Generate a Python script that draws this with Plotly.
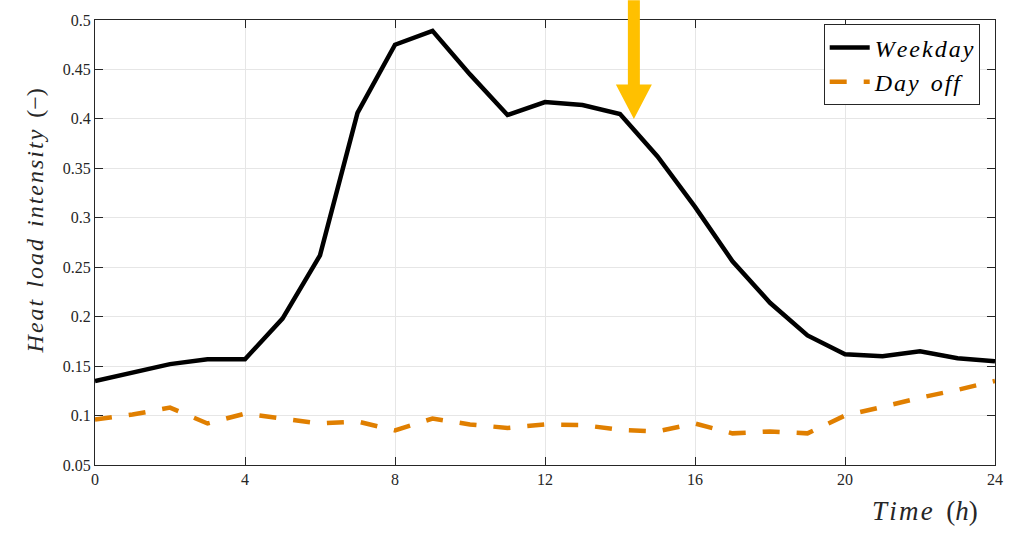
import plotly.graph_objects as go

# Hourly heat load intensity profiles
hours = list(range(25))
weekday = [0.135, 0.1435, 0.152, 0.157, 0.157, 0.198, 0.262, 0.406, 0.475, 0.489,
           0.445, 0.404, 0.417, 0.414, 0.405, 0.362, 0.311, 0.256, 0.214, 0.181,
           0.162, 0.160, 0.165, 0.158, 0.155]
day_off = [0.096, 0.101, 0.108, 0.092, 0.102, 0.097, 0.092, 0.094, 0.085, 0.097,
           0.091, 0.0875, 0.091, 0.0905, 0.0855, 0.084, 0.092, 0.082, 0.084, 0.082,
           0.100, 0.1087, 0.118, 0.126, 0.135]

x_ticks = [0, 4, 8, 12, 16, 20, 24]
y_ticks = [0.05, 0.1, 0.15, 0.2, 0.25, 0.3, 0.35, 0.4, 0.45, 0.5]
y_tick_text = ["0.05", "0.1", "0.15", "0.2", "0.25", "0.3", "0.35", "0.4", "0.45", "0.5"]

x_range = [0, 24]
y_range = [0.05, 0.5]

# Marker arrow pointing at the afternoon decline
arrow_hour = 14.37
arrow_tip_value = 0.40

AXIS_COLOR = "#262626"
GRID_COLOR = "#e6e6e6"
FONT = "Liberation Serif"
LETTER_GAP = "\u200a"   # hair space between letters
WORD_GAP = "\u2002"     # en space between words


def math_it(phrase):
    """Italic text with loose letter spacing, like math-mode italics."""
    return "<i>" + WORD_GAP.join(LETTER_GAP.join(w) for w in phrase.split(" ")) + "</i>"


fig = go.Figure()
fig.add_trace(go.Scatter(
    x=hours, y=weekday, mode="lines", name=math_it("Weekday"),
    line=dict(color="black", width=4.5),
))
fig.add_trace(go.Scatter(
    x=hours, y=day_off, mode="lines", name=math_it("Day off"),
    line=dict(color="#E07F00", width=4.5, dash="17px,17px"),
))

W, H = 1025, 534
margin = dict(l=95, r=30, t=12, b=69)
plot_w = W - margin["l"] - margin["r"]
plot_h = H - margin["t"] - margin["b"]


def to_px(hour):
    return (hour - x_range[0]) / (x_range[1] - x_range[0])


def to_py(val):
    return (val - y_range[0]) / (y_range[1] - y_range[0])


ax = to_px(arrow_hour)
tip = to_py(arrow_tip_value)
shaft_hw = 6 / plot_w
head_hw = 18 / plot_w
head_top = tip + 35 / plot_h
shaft_top = 1 + 20 / plot_h
arrow_path = (
    f"M {ax - shaft_hw} {shaft_top} L {ax + shaft_hw} {shaft_top} "
    f"L {ax + shaft_hw} {head_top} L {ax + head_hw} {head_top} "
    f"L {ax} {tip} L {ax - head_hw} {head_top} L {ax - shaft_hw} {head_top} Z"
)
fig.add_shape(type="path", path=arrow_path, xref="paper", yref="paper",
              fillcolor="#FFC000", line=dict(width=0), layer="above")

y_title = math_it("Heat load intensity") + WORD_GAP + "(−)"
x_title = math_it("Time") + WORD_GAP + "(" + math_it("h") + ")"

fig.update_layout(
    width=W, height=H,
    margin=margin,
    paper_bgcolor="white", plot_bgcolor="white",
    font=dict(family=FONT, color=AXIS_COLOR, size=16),
    showlegend=True,
    legend=dict(
        x=0.983, y=0.99, xanchor="right", yanchor="top",
        bgcolor="white", bordercolor=AXIS_COLOR, borderwidth=1,
        font=dict(family=FONT, size=24, color="black"),
        tracegroupgap=0, itemwidth=40,
    ),
    xaxis=dict(
        range=x_range, tickvals=x_ticks, ticktext=[str(t) for t in x_ticks],
        showgrid=True, gridcolor=GRID_COLOR, gridwidth=1,
        showline=True, linecolor=AXIS_COLOR, linewidth=1, mirror="ticks",
        ticks="inside", ticklen=8, tickcolor=AXIS_COLOR,
        zeroline=False, tickfont=dict(size=16),
    ),
    yaxis=dict(
        range=y_range, tickvals=y_ticks, ticktext=y_tick_text,
        showgrid=True, gridcolor=GRID_COLOR, gridwidth=1,
        showline=True, linecolor=AXIS_COLOR, linewidth=1, mirror="ticks",
        ticks="inside", ticklen=8, tickcolor=AXIS_COLOR,
        zeroline=False, tickfont=dict(size=16),
    ),
    annotations=[
        dict(text=y_title, xref="paper", yref="paper",
             x=-60 / plot_w, y=1 - (217 - margin["t"]) / plot_h,
             xanchor="center", yanchor="middle", textangle=-90,
             showarrow=False, font=dict(family=FONT, size=24, color=AXIS_COLOR)),
        dict(text=x_title, xref="paper", yref="paper",
             x=(925 - margin["l"]) / plot_w, y=-(512 - margin["t"] - plot_h) / plot_h,
             xanchor="center", yanchor="middle",
             showarrow=False, font=dict(family=FONT, size=27, color=AXIS_COLOR)),
    ],
)

fig.write_html("out.html")
